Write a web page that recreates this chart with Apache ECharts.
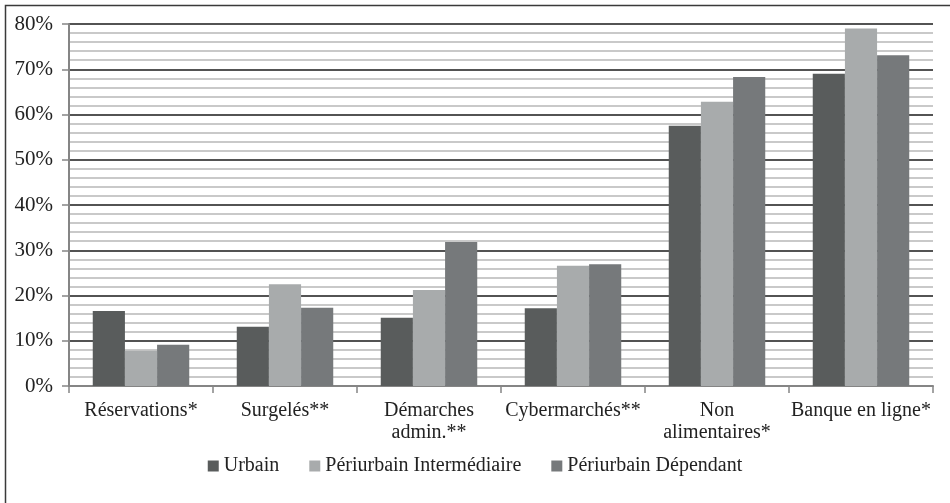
<!DOCTYPE html>
<html>
<head>
<meta charset="utf-8">
<script src="https://cdn.jsdelivr.net/npm/echarts@6/dist/echarts.min.js"></script>
<style>
  html, body { margin: 0; padding: 0; background: #fff; }
  #main { width: 950px; height: 503px; }
</style>
</head>
<body>
<div id="main"></div>
<script>
// catégories et valeurs (%)
const categories = ['Réservations*', 'Surgelés**', 'Démarches\nadmin.**', 'Cybermarchés**', 'Non\nalimentaires*', 'Banque en ligne*']
const urbain = [16.6, 13.1, 15.1, 17.2, 57.5, 69.0]
const periIntermediaire = [7.8, 22.5, 21.2, 26.6, 62.8, 79.0]
const periDependant = [9.1, 17.3, 31.8, 26.9, 68.3, 73.1]

const font = 'Liberation Serif'
let chart = echarts.init(document.getElementById('main'))

function bar(name, data, color) {
  return {
    name: name,
    type: 'bar',
    data: data,
    barGap: '0%',
    barCategoryGap: '33%',
    itemStyle: { color: color },
    emphasis: { disabled: true }
  }
}

chart.setOption({
  animation: false,
  textStyle: { fontFamily: font },
  graphic: [{
    type: 'rect',
    shape: { x: 5.5, y: 5.5, width: 960, height: 520 },
    style: { fill: 'none', stroke: '#3a3a3a', lineWidth: 1.5 },
    silent: true
  }],
  grid: { left: 69, right: 17, top: 24, bottom: 117 },
  legend: {
    top: 451,
    left: 'center',
    itemWidth: 11,
    itemHeight: 11,
    itemGap: 30,
    icon: 'rect',
    textStyle: { fontFamily: font, fontSize: 20, color: '#222' },
    data: ['Urbain', 'Périurbain Intermédiaire', 'Périurbain Dépendant']
  },
  xAxis: {
    type: 'category',
    data: categories,
    axisLine: { lineStyle: { color: '#858585', width: 2 } },
    axisTick: { show: true, length: 7, lineStyle: { color: '#858585', width: 1.5 } },
    axisLabel: { fontFamily: font, fontSize: 20, color: '#222', margin: 14, lineHeight: 22, interval: 0 }
  },
  yAxis: {
    type: 'value',
    min: 0,
    max: 80,
    interval: 10,
    axisLine: { show: true, lineStyle: { color: '#858585', width: 2 } },
    axisTick: { show: true, length: 7, lineStyle: { color: '#858585', width: 1.5 } },
    axisLabel: { fontFamily: font, fontSize: 21, color: '#222', margin: 16, formatter: '{value}%' },
    splitLine: { show: true, lineStyle: { color: '#1a1a1a', width: 1.5 } },
    minorTick: { show: false, splitNumber: 5 },
    minorSplitLine: { show: true, lineStyle: { color: '#b8b8b8', width: 1.5 } }
  },
  series: [
    bar('Urbain', urbain, '#595c5c'),
    bar('Périurbain Intermédiaire', periIntermediaire, '#a8abac'),
    bar('Périurbain Dépendant', periDependant, '#76797b')
  ]
})
</script>
</body>
</html>
